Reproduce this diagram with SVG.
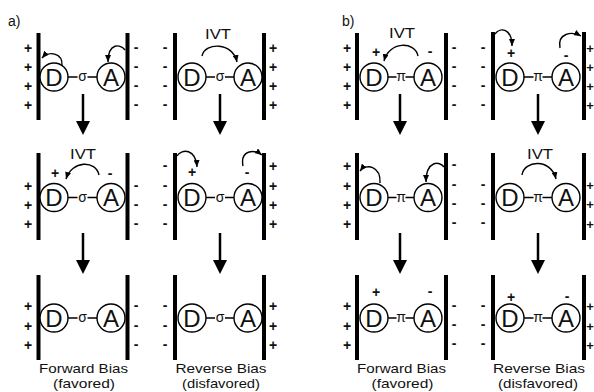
<svg xmlns="http://www.w3.org/2000/svg" width="594" height="392" viewBox="0 0 594 392">
<defs>
<marker id="ah" viewBox="0 0 7 6" refX="7" refY="3" markerWidth="7" markerHeight="6" markerUnits="userSpaceOnUse" orient="auto"><path d="M0,0 L7,3 L0,6 z" fill="#000"/></marker>
<marker id="dh" viewBox="0 0 14 14" refX="3" refY="7" markerWidth="14" markerHeight="14" markerUnits="userSpaceOnUse" orient="auto"><path d="M0,0 L14,7 L0,14 z" fill="#000"/></marker>
<style>
.el{stroke:#000;stroke-width:4}
.ring{fill:#fff;stroke:#000;stroke-width:1.4}
.bond{fill:none;stroke:#000;stroke-width:1.3}
.big{font-family:"Liberation Sans",Arial,sans-serif;font-size:24px;text-anchor:middle;fill:#111}
.gr{font-family:"Liberation Sans",Arial,sans-serif;font-size:14px;text-anchor:middle;fill:#111}
.sg{font-family:"Liberation Sans",Arial,sans-serif;font-size:14px;font-weight:bold;text-anchor:middle;fill:#111}
.sge{font-family:"Liberation Sans",Arial,sans-serif;font-size:13px;font-weight:bold;text-anchor:middle;fill:#111}
.ivt{font-family:"Liberation Sans",Arial,sans-serif;font-size:15px;text-anchor:middle;fill:#111}
.lbl{font-family:"Liberation Sans",Arial,sans-serif;font-size:13px;text-anchor:middle;fill:#111}
.pl{font-family:"Liberation Sans",Arial,sans-serif;font-size:14px;fill:#111}
.arc{fill:none;stroke:#000;stroke-width:1.4;marker-end:url(#ah)}
.down{fill:none;stroke:#000;stroke-width:2.5;marker-end:url(#dh)}
</style>
</defs>
<rect width="594" height="392" fill="#fff"/>
<text class="pl" x="8" y="26">a)</text>
<text class="pl" x="342" y="26">b)</text>

<!-- Panel a, column 1, row 1 -->
<g id="a1">
<line class="el" x1="38.5" y1="33" x2="38.5" y2="120"/><line class="el" x1="127.5" y1="33" x2="127.5" y2="120"/>
<text class="sg" x="28" y="52.5">+</text><text class="sg" x="28" y="71.5">+</text><text class="sg" x="28" y="90.5">+</text><text class="sg" x="28" y="109.5">+</text>
<text class="sg" x="136" y="51.5">-</text><text class="sg" x="136" y="70.5">-</text><text class="sg" x="136" y="89.5">-</text><text class="sg" x="136" y="108.5">-</text>
<path class="bond" d="M68,77H77.5M87.5,77H97"/><text class="gr" x="82.5" y="81">σ</text>
<g id="a1-D"><circle class="ring" cx="54" cy="77" r="14"/><text class="big" x="54" y="85.7">D</text></g>
<g id="a1-A"><circle class="ring" cx="111" cy="77" r="14"/><text class="big" x="111" y="85.7">A</text></g>
</g>
<!-- Panel a, column 2, row 1 -->
<g id="a2">
<line class="el" x1="175" y1="33" x2="175" y2="120"/><line class="el" x1="264" y1="33" x2="264" y2="120"/>
<text class="sg" x="165" y="51.5">-</text><text class="sg" x="165" y="70.5">-</text><text class="sg" x="165" y="89.5">-</text><text class="sg" x="165" y="108.5">-</text>
<text class="sg" x="273" y="52.5">+</text><text class="sg" x="273" y="71.5">+</text><text class="sg" x="273" y="90.5">+</text><text class="sg" x="273" y="109.5">+</text>
<path class="bond" d="M206,77H215M225,77H234"/><text class="gr" x="220" y="81">σ</text>
<text class="ivt" x="218" y="39" textLength="26" lengthAdjust="spacingAndGlyphs">IVT</text>
<g id="a2-D"><circle class="ring" cx="192" cy="77" r="14"/><text class="big" x="192" y="85.7">D</text></g>
<g id="a2-A"><circle class="ring" cx="248" cy="77" r="14"/><text class="big" x="248" y="85.7">A</text></g>
</g>
<!-- row 2 -->
<g id="a3">
<line class="el" x1="38.5" y1="153" x2="38.5" y2="240"/><line class="el" x1="127.5" y1="153" x2="127.5" y2="240"/>
<text class="sg" x="28" y="190.5">+</text><text class="sg" x="28" y="210">+</text><text class="sg" x="28" y="229">+</text>
<text class="sg" x="136" y="189.5">-</text><text class="sg" x="136" y="209">-</text><text class="sg" x="136" y="228">-</text>
<text class="sg" x="55" y="178">+</text><text class="sg" x="110" y="178">-</text>
<path class="bond" d="M68,197.5H77.5M87.5,197.5H97"/><text class="gr" x="82.5" y="201.5">σ</text>
<text class="ivt" x="83" y="159" textLength="26" lengthAdjust="spacingAndGlyphs">IVT</text>
<g id="a3-D"><circle class="ring" cx="54" cy="197.5" r="14"/><text class="big" x="54" y="206.2">D</text></g>
<g id="a3-A"><circle class="ring" cx="111" cy="197.5" r="14"/><text class="big" x="111" y="206.2">A</text></g>
</g>
<g id="a4">
<line class="el" x1="175" y1="153" x2="175" y2="240"/><line class="el" x1="264" y1="153" x2="264" y2="240"/>
<text class="sg" x="165" y="170">-</text><text class="sg" x="165" y="189.5">-</text><text class="sg" x="165" y="209">-</text><text class="sg" x="165" y="228">-</text>
<text class="sg" x="273" y="171">+</text><text class="sg" x="273" y="190.5">+</text><text class="sg" x="273" y="210">+</text><text class="sg" x="273" y="229">+</text>
<text class="sg" x="192" y="177">+</text><text class="sg" x="247" y="177">-</text>
<path class="bond" d="M206,197.5H215M225,197.5H234"/><text class="gr" x="220" y="201.5">σ</text>
<g id="a4-D"><circle class="ring" cx="192" cy="197.5" r="14"/><text class="big" x="192" y="206.2">D</text></g>
<g id="a4-A"><circle class="ring" cx="248" cy="197.5" r="14"/><text class="big" x="248" y="206.2">A</text></g>
</g>
<!-- row 3 -->
<g id="a5">
<line class="el" x1="38.5" y1="275" x2="38.5" y2="360"/><line class="el" x1="127.5" y1="275" x2="127.5" y2="360"/>
<text class="sg" x="28" y="311">+</text><text class="sg" x="28" y="331">+</text><text class="sg" x="28" y="350">+</text>
<text class="sg" x="136" y="310">-</text><text class="sg" x="136" y="330">-</text><text class="sg" x="136" y="349">-</text>
<path class="bond" d="M68,318H77.5M87.5,318H97"/><text class="gr" x="82.5" y="322">σ</text>
<g id="a5-D"><circle class="ring" cx="54" cy="318" r="14"/><text class="big" x="54" y="326.7">D</text></g>
<g id="a5-A"><circle class="ring" cx="111" cy="318" r="14"/><text class="big" x="111" y="326.7">A</text></g>
<text class="lbl" x="83.5" y="373" textLength="89" lengthAdjust="spacingAndGlyphs">Forward Bias</text>
<text class="lbl" x="84" y="388" textLength="62" lengthAdjust="spacingAndGlyphs">(favored)</text>
</g>
<g id="a6">
<line class="el" x1="175" y1="275" x2="175" y2="360"/><line class="el" x1="264" y1="275" x2="264" y2="360"/>
<text class="sg" x="165" y="310">-</text><text class="sg" x="165" y="330">-</text><text class="sg" x="165" y="349">-</text>
<text class="sg" x="273" y="311">+</text><text class="sg" x="273" y="331">+</text><text class="sg" x="273" y="350">+</text>
<path class="bond" d="M206,318H215M225,318H234"/><text class="gr" x="220" y="322">σ</text>
<g id="a6-D"><circle class="ring" cx="192" cy="318" r="14"/><text class="big" x="192" y="326.7">D</text></g>
<g id="a6-A"><circle class="ring" cx="248" cy="318" r="14"/><text class="big" x="248" y="326.7">A</text></g>
<text class="lbl" x="221" y="373" textLength="91" lengthAdjust="spacingAndGlyphs">Reverse Bias</text>
<text class="lbl" x="221" y="388" textLength="78" lengthAdjust="spacingAndGlyphs">(disfavored)</text>
</g>

<!-- Panel b -->
<g id="b1">
<line class="el" x1="357" y1="33" x2="357" y2="120"/><line class="el" x1="446" y1="33" x2="446" y2="120"/>
<text class="sg" x="347" y="52.5">+</text><text class="sg" x="347" y="71.5">+</text><text class="sg" x="347" y="90.5">+</text><text class="sg" x="347" y="109.5">+</text>
<text class="sg" x="454" y="51.5">-</text><text class="sg" x="454" y="70.5">-</text><text class="sg" x="454" y="89.5">-</text><text class="sg" x="454" y="108.5">-</text>
<text class="sg" x="376" y="57">+</text><text class="sg" x="430" y="56">-</text>
<path class="bond" d="M388,77H396.5M405.5,77H414"/><text class="gr" x="401" y="81">π</text>
<text class="ivt" x="402" y="38" textLength="26" lengthAdjust="spacingAndGlyphs">IVT</text>
<g id="b1-D"><circle class="ring" cx="374" cy="77" r="14"/><text class="big" x="374" y="85.7">D</text></g>
<g id="b1-A"><circle class="ring" cx="428" cy="77" r="14"/><text class="big" x="428" y="85.7">A</text></g>
</g>
<g id="b2">
<line class="el" x1="493" y1="32" x2="493" y2="120"/><line class="el" x1="584" y1="32" x2="584" y2="120"/>
<text class="sg" x="483" y="51.5">-</text><text class="sg" x="483" y="70.5">-</text><text class="sg" x="483" y="89.5">-</text><text class="sg" x="483" y="108.5">-</text>
<text class="sge" x="590" y="52.5">+</text><text class="sge" x="590" y="71.5">+</text><text class="sge" x="590" y="90.5">+</text><text class="sge" x="590" y="109.5">+</text>
<text class="sg" x="511" y="58">+</text><text class="sg" x="566" y="60">-</text>
<path class="bond" d="M524,77H533.5M542.5,77H552"/><text class="gr" x="538" y="81">π</text>
<g id="b2-D"><circle class="ring" cx="510" cy="77" r="14"/><text class="big" x="510" y="85.7">D</text></g>
<g id="b2-A"><circle class="ring" cx="566" cy="77" r="14"/><text class="big" x="566" y="85.7">A</text></g>
</g>
<g id="b3">
<line class="el" x1="357" y1="153" x2="357" y2="240"/><line class="el" x1="446" y1="153" x2="446" y2="240"/>
<text class="sg" x="347" y="171">+</text><text class="sg" x="347" y="190.5">+</text><text class="sg" x="347" y="210">+</text><text class="sg" x="347" y="229">+</text>
<text class="sg" x="454" y="169">-</text><text class="sg" x="454" y="188.5">-</text><text class="sg" x="454" y="208">-</text><text class="sg" x="454" y="227">-</text>
<path class="bond" d="M388,197.5H396.5M405.5,197.5H414"/><text class="gr" x="401" y="201.5">π</text>
<g id="b3-D"><circle class="ring" cx="374" cy="197.5" r="14"/><text class="big" x="374" y="206.2">D</text></g>
<g id="b3-A"><circle class="ring" cx="428" cy="197.5" r="14"/><text class="big" x="428" y="206.2">A</text></g>
</g>
<g id="b4">
<line class="el" x1="493" y1="153" x2="493" y2="240"/><line class="el" x1="584" y1="153" x2="584" y2="240"/>
<text class="sg" x="483" y="188.5">-</text><text class="sg" x="483" y="208">-</text><text class="sg" x="483" y="227">-</text>
<text class="sge" x="590" y="190">+</text><text class="sge" x="590" y="209">+</text><text class="sge" x="590" y="228.5">+</text>
<path class="bond" d="M524,197.5H533.5M542.5,197.5H552"/><text class="gr" x="538" y="201.5">π</text>
<text class="ivt" x="540" y="159" textLength="26" lengthAdjust="spacingAndGlyphs">IVT</text>
<g id="b4-D"><circle class="ring" cx="510" cy="197.5" r="14"/><text class="big" x="510" y="206.2">D</text></g>
<g id="b4-A"><circle class="ring" cx="566" cy="197.5" r="14"/><text class="big" x="566" y="206.2">A</text></g>
</g>
<g id="b5">
<line class="el" x1="357" y1="275" x2="357" y2="360"/><line class="el" x1="446" y1="275" x2="446" y2="360"/>
<text class="sg" x="347" y="311">+</text><text class="sg" x="347" y="331">+</text><text class="sg" x="347" y="350">+</text>
<text class="sg" x="454" y="310">-</text><text class="sg" x="454" y="329">-</text><text class="sg" x="454" y="348">-</text>
<text class="sg" x="376" y="297">+</text><text class="sg" x="430" y="296">-</text>
<path class="bond" d="M388,318H396.5M405.5,318H414"/><text class="gr" x="401" y="322">π</text>
<g id="b5-D"><circle class="ring" cx="374" cy="318" r="14"/><text class="big" x="374" y="326.7">D</text></g>
<g id="b5-A"><circle class="ring" cx="428" cy="318" r="14"/><text class="big" x="428" y="326.7">A</text></g>
<text class="lbl" x="401.5" y="373" textLength="89" lengthAdjust="spacingAndGlyphs">Forward Bias</text>
<text class="lbl" x="402.5" y="388" textLength="62" lengthAdjust="spacingAndGlyphs">(favored)</text>
</g>
<g id="b6">
<line class="el" x1="493" y1="275" x2="493" y2="360"/><line class="el" x1="584" y1="275" x2="584" y2="360"/>
<text class="sg" x="483" y="310">-</text><text class="sg" x="483" y="329">-</text><text class="sg" x="483" y="348">-</text>
<text class="sge" x="590" y="311">+</text><text class="sge" x="590" y="331">+</text><text class="sge" x="590" y="350">+</text>
<text class="sg" x="511" y="302">+</text><text class="sg" x="567" y="301">-</text>
<path class="bond" d="M524,318H533.5M542.5,318H552"/><text class="gr" x="538" y="322">π</text>
<g id="b6-D"><circle class="ring" cx="510" cy="318" r="14"/><text class="big" x="510" y="326.7">D</text></g>
<g id="b6-A"><circle class="ring" cx="566" cy="318" r="14"/><text class="big" x="566" y="326.7">A</text></g>
<text class="lbl" x="539" y="373" textLength="92" lengthAdjust="spacingAndGlyphs">Reverse Bias</text>
<text class="lbl" x="538" y="388" textLength="80" lengthAdjust="spacingAndGlyphs">(disfavored)</text>
</g>

<g id="connectors">
<path class="down" d="M83,94V124"/><path class="down" d="M83,233V263"/>
<path class="down" d="M220,94V124"/><path class="down" d="M220,233V263"/>
<path class="down" d="M400,94V124"/><path class="down" d="M400,233V263"/>
<path class="down" d="M538,94V124"/><path class="down" d="M538,233V263"/>
<path class="arc" d="M62,66 C63,52 48,51 42,58"/>
<path class="arc" d="M125,50 C121,44 108,42 108,62"/>
<path class="arc" d="M202,56 C205,42 233,42 237,62"/>
<path class="arc" d="M99,175 C96,160 72,160 66,179"/>
<path class="arc" d="M177,156 C182,148 196,149 197,167"/>
<path class="arc" d="M243,166 C240,150 254,149 262,155"/>
<path class="arc" d="M418,56 C415,41 389,41 384,61"/>
<path class="arc" d="M495,34 C500,27 512,28 512,46"/>
<path class="arc" d="M560,48 C557,33 572,31 581,36"/>
<path class="arc" d="M380,183 C381,166 366,163 360,171"/>
<path class="arc" d="M444,167 C440,161 426,160 426,182"/>
<path class="arc" d="M522,175 C524,160 551,158 556,179"/>
</g>
</svg>
